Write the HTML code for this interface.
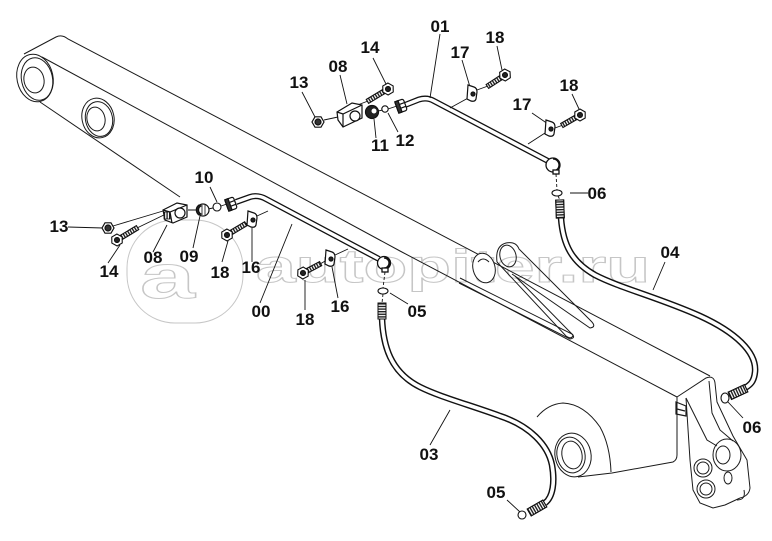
<!DOCTYPE html>
<html><head><meta charset="utf-8">
<style>
html,body{margin:0;padding:0;background:#fff;}
svg{display:block;}
.lb{font-family:"Liberation Sans",Arial,sans-serif;font-weight:bold;font-size:17px;fill:#111;text-anchor:middle;}
.wm{font-family:"Liberation Sans",Arial,sans-serif;font-weight:bold;fill:none;stroke:#c6c6c6;stroke-width:1;}
</style></head><body>
<svg width="772" height="541" viewBox="0 0 772 541" xmlns="http://www.w3.org/2000/svg">
<defs>
<pattern id="thr" patternUnits="userSpaceOnUse" width="2.6" height="10">
<rect width="2.6" height="10" fill="#fff"/><rect width="1.4" height="10" fill="#222"/>
</pattern>
</defs>
<rect width="772" height="541" fill="#fff"/>

<!-- watermark -->
<rect x="127" y="220" width="116" height="103" rx="48" class="wm"/>
<text x="140" y="298" class="wm" font-size="62" textLength="55" lengthAdjust="spacingAndGlyphs">a</text>
<text x="256" y="282" class="wm" font-size="46" textLength="394" lengthAdjust="spacingAndGlyphs">autopiter.ru</text>

<!-- ARM -->
<g fill="none" stroke="#1a1a1a" stroke-width="1">
<path d="M24,54 L56,37 Q62,34 68,39 L710,376"/>
<path d="M42,57 L400,251 L677,397"/>
<path d="M40,102 L180,197"/>
<ellipse cx="35" cy="78" rx="18" ry="24" transform="rotate(-12 35 78)"/>
<ellipse cx="37" cy="79" rx="15.5" ry="21.5" transform="rotate(-12 37 79)"/>
<ellipse cx="34" cy="80" rx="10" ry="13" transform="rotate(-12 34 80)"/>
<ellipse cx="98" cy="118" rx="16" ry="20" transform="rotate(-12 98 118)"/>
<ellipse cx="99" cy="119" rx="13.5" ry="17.5" transform="rotate(-12 99 119)"/>
<ellipse cx="96" cy="119" rx="9" ry="12" transform="rotate(-12 96 119)"/>
<!-- lug and slot -->
<path d="M497,262 Q495,246 506,243 Q516,241 519,249 L591,321 Q597,327 590,328 L512,274"/>
<path d="M497,262 L566,336 Q572,340 573,335 L515,276"/>
<path d="M460,278 L572,334 Q576,338 570,339 L459,283"/>
<ellipse cx="508" cy="256" rx="8" ry="11" transform="rotate(-15 508 256)"/>
<ellipse cx="484" cy="268" rx="11" ry="15" transform="rotate(-15 484 268)" fill="#fff"/>
<path d="M478,262 Q483,256 489,262"/>
<!-- lower boss -->
<path d="M537,417 Q548,404 563,403 Q584,404 600,427 Q610,445 611,472"/>
<ellipse cx="573" cy="455" rx="18" ry="22" transform="rotate(-12 573 455)" fill="#fff"/>
<ellipse cx="571" cy="455" rx="14" ry="18" transform="rotate(-12 571 455)"/>
<ellipse cx="572" cy="455" rx="10" ry="14" transform="rotate(-12 572 455)"/>
<path d="M578,477 L612,473 L673,462 Q677,460 677,455 L677,397"/>
<!-- bracket -->
<path d="M677,397 L706,378 Q714,375 715,383 L717,402 L733,436 L747,460 L750,488 Q749,496 740,498"/>
<path d="M686,398 L690,460 L693,490 L700,503 L713,508 L725,505 L740,498"/>
<path d="M686,398 L707,440 L717,446"/>
<path d="M709,381 L712,413 L720,430 L733,441"/>
<ellipse cx="727" cy="455" rx="14" ry="16"/>
<ellipse cx="723" cy="455" rx="7" ry="9"/>
<ellipse cx="728" cy="478" rx="4" ry="6"/>
<circle cx="703" cy="468" r="9" fill="#fff"/>
<circle cx="703" cy="468" r="6"/>
<circle cx="706" cy="489" r="9" fill="#fff"/>
<circle cx="706" cy="489" r="6"/>
<path d="M676,402 L686,406 L686,416 L676,414 Z M677,409 L685,411" stroke-width="1.2"/>
<path d="M744,490 Q746,500 737,500"/>
</g>

<!-- HOSES & PIPES -->
<g fill="none" stroke-linecap="butt">
<path d="M382,318 C383,345 390,372 420,387 C440,397 470,405 500,416 C530,426 548,445 552,465 C555,482 553,497 545,503" stroke="#111" stroke-width="6.5"/>
<path d="M382,318 C383,345 390,372 420,387 C440,397 470,405 500,416 C530,426 548,445 552,465 C555,482 553,497 545,503" stroke="#fff" stroke-width="3.6"/>
<path d="M561,218 C563,245 572,262 595,275 C620,288 660,298 700,316 C735,332 757,352 755,372 C754,382 750,385 745,388" stroke="#111" stroke-width="6.5"/>
<path d="M561,218 C563,245 572,262 595,275 C620,288 660,298 700,316 C735,332 757,352 755,372 C754,382 750,385 745,388" stroke="#fff" stroke-width="3.6"/>
<path d="M236,202 L250,197 Q258,194.5 266,199 L379,259" stroke="#111" stroke-width="6"/>
<path d="M236,202 L250,197 Q258,194.5 266,199 L379,259" stroke="#fff" stroke-width="3.4"/>
<path d="M405,105 L419,99.5 Q427,97 434,101 L548,161" stroke="#111" stroke-width="6"/>
<path d="M405,105 L419,99.5 Q427,97 434,101 L548,161" stroke="#fff" stroke-width="3.4"/>
</g>

<!-- hose fittings -->
<g stroke="#111" stroke-width="1">
<g transform="translate(560,209) rotate(88)"><rect x="-9" y="-4" width="18" height="8" fill="url(#thr)"/><rect x="-9" y="-4" width="18" height="8" fill="none"/></g>
<g transform="translate(382,311) rotate(90)"><rect x="-8" y="-4" width="16" height="8" fill="url(#thr)"/><rect x="-8" y="-4" width="16" height="8" fill="none"/></g>
<g transform="translate(537,508) rotate(150)"><rect x="-9" y="-4" width="18" height="8" fill="url(#thr)"/><rect x="-9" y="-4" width="18" height="8" fill="none"/></g>
<g transform="translate(738,392) rotate(155)"><rect x="-9" y="-4" width="18" height="8" fill="url(#thr)"/><rect x="-9" y="-4" width="18" height="8" fill="none"/></g>
</g>

<!-- elbows -->
<g stroke="#111" stroke-width="1.3">
<circle cx="553" cy="165" r="7" fill="#fff"/>
<path d="M556,159 A7,7 0 0 1 556,171 L553,171 A6,6 0 0 0 553,159 Z" fill="#222"/>
<rect x="553" y="170" width="6" height="4" fill="#fff"/>
<circle cx="384" cy="263" r="6.5" fill="#fff"/>
<path d="M387,257.5 A6.5,6.5 0 0 1 387,268.5 L384,268 A5,5 0 0 0 384,258 Z" fill="#222"/>
<rect x="382" y="268" width="6" height="4" fill="#fff"/>
</g>

<!-- pipe nuts -->
<g stroke="#111" stroke-width="1.2">
<g transform="translate(401,106) rotate(-20)"><rect x="-4.5" y="-6" width="9" height="12" rx="2" fill="#fff"/><path d="M-4.5,-2 L4.5,-2 M-4.5,2 L4.5,2" /><path d="M-4.5,-6 L-1,-6 L-1,6 L-4.5,6Z" fill="#333"/></g>
<g transform="translate(231,204) rotate(-20)"><rect x="-4.5" y="-6" width="9" height="12" rx="2" fill="#fff"/><path d="M-4.5,-2 L4.5,-2 M-4.5,2 L4.5,2" /><path d="M-4.5,-6 L-1,-6 L-1,6 L-4.5,6Z" fill="#333"/></g>
</g>

<!-- dashed center lines -->
<g stroke="#111" stroke-width="0.9" fill="none">
<path d="M556,174 L557,190 M558,196 L560,200" stroke-dasharray="3 2"/>
<path d="M385,272 L383,288 M383,294 L382,303" stroke-dasharray="3 2"/>
<!-- assembly lines -->
<path d="M324,120 L338,117 M368,101 L355,106 M378,111 L383,110 M388,109 L397,106 M470,97 L450,108 M488,86 L477,90 M545,133 L528,144 M563,125 L555,128"/>
<path d="M113,226 L163,211 M137,228 L168,213 M188,210 L197,210 M208,209 L213,208 M221,206 L227,204 M245,224 L249,222 M257,216 L268,211 M320,264 L327,260 M335,255 L348,249"/>
<!-- leaders -->
<path d="M440,34 L430,98 M462,60 L470,87 M497,46 L502,70 M532,113 L548,124 M572,94 L579,109 M570,193 L588,193"/>
<path d="M302,92 L315,117 M340,75 L347,104 M373,58 L386,84 M376,138 L374,119 M398,132 L388,113"/>
<path d="M210,187 L217,202 M200,216 L193,248 M167,225 L153,252 M108,263 L120,245 M68,227 L103,228 M222,262 L228,241 M252,262 L252,228 M260,303 L292,224 M305,310 L305,280 M338,298 L332,267 M390,293 L408,304"/>
<path d="M665,262 L653,290 M430,445 L450,410 M507,500 L520,512 M728,402 L743,418"/>
</g>

<!-- O-rings -->
<g fill="#fff" stroke="#111" stroke-width="1.1">
<ellipse cx="557" cy="193" rx="5" ry="3"/>
<ellipse cx="383" cy="291" rx="5" ry="3"/>
<circle cx="385" cy="109" r="3.2"/>
<circle cx="217" cy="207" r="4"/>
<circle cx="522" cy="515" r="4"/>
<ellipse cx="725" cy="398" rx="4" ry="5"/>
</g>

<!-- caps -->
<g stroke="#111" stroke-width="1.2">
<circle cx="372" cy="112" r="6.5" fill="#222"/>
<circle cx="374" cy="111" r="2.5" fill="#fff" stroke="none"/>
<circle cx="203" cy="210" r="6" fill="#fff"/>
<path d="M199,205 A6,6 0 0 0 199,215 L201,214 A4.5,4.5 0 0 1 201,206 Z" fill="#222"/>
<path d="M202,205 L202,215 M205,205 L205,215" stroke-width="0.8"/>
</g>

<!-- nuts 13 -->
<g stroke="#111" stroke-width="1.2">
<g transform="translate(318,122)"><polygon points="6,0 3,5.2 -3,5.2 -6,0 -3,-5.2 3,-5.2" fill="#fff"/><circle r="3" fill="#333"/></g>
<g transform="translate(108,228)"><polygon points="6,0 3,5.2 -3,5.2 -6,0 -3,-5.2 3,-5.2" fill="#fff"/><circle r="3" fill="#333"/></g>
</g>

<!-- blocks 08 -->
<g stroke="#111" stroke-width="1.2" fill="#fff">
<polygon points="337,112 352,103 362,105 362,118 343,127 338,120"/>
<path d="M337,112 L343,114 L362,105 M343,114 L343,127" fill="none"/>
<circle cx="355" cy="116" r="5"/>
<polygon points="163,210 177,203 187,205 187,217 173,223 165,220"/>
<path d="M163,210 L170,212 L187,205 M170,212 L172,223" fill="none"/>
<circle cx="180" cy="213" r="5"/>
<rect x="164" y="212" width="6" height="7" fill="url(#thr)" stroke-width="0.8"/>
</g>

<!-- bolts -->
<g stroke="#111" stroke-width="1.1">
<g transform="translate(388,89) rotate(149)"><rect x="5" y="-2.3" width="19" height="4.6" fill="url(#thr)"/><polygon points="6,0 3,5.2 -3,5.2 -6,0 -3,-5.2 3,-5.2" fill="#fff"/><circle r="2.5" fill="#222"/></g>
<g transform="translate(117,240) rotate(-31)"><rect x="5" y="-2.3" width="19" height="4.6" fill="url(#thr)"/><polygon points="6,0 3,5.2 -3,5.2 -6,0 -3,-5.2 3,-5.2" fill="#fff"/><circle r="2.5" fill="#222"/></g>
<g transform="translate(505,75) rotate(147)"><rect x="5" y="-2.3" width="16" height="4.6" fill="url(#thr)"/><polygon points="6,0 3,5.2 -3,5.2 -6,0 -3,-5.2 3,-5.2" fill="#fff"/><circle r="2.5" fill="#222"/></g>
<g transform="translate(580,115) rotate(150)"><rect x="5" y="-2.3" width="16" height="4.6" fill="url(#thr)"/><polygon points="6,0 3,5.2 -3,5.2 -6,0 -3,-5.2 3,-5.2" fill="#fff"/><circle r="2.5" fill="#222"/></g>
<g transform="translate(227,235) rotate(-31)"><rect x="5" y="-2.3" width="17" height="4.6" fill="url(#thr)"/><polygon points="6,0 3,5.2 -3,5.2 -6,0 -3,-5.2 3,-5.2" fill="#fff"/><circle r="2.5" fill="#222"/></g>
<g transform="translate(303,273) rotate(-28)"><rect x="5" y="-2.3" width="15" height="4.6" fill="url(#thr)"/><polygon points="6,0 3,5.2 -3,5.2 -6,0 -3,-5.2 3,-5.2" fill="#fff"/><circle r="2.5" fill="#222"/></g>
</g>

<!-- clips 16/17 -->
<g stroke="#111" stroke-width="1.2" fill="#fff">
<g transform="translate(472,93)"><path d="M-4,-8 L2,-6 Q5,-5 5,-1 L4,6 Q3,9 -1,8 L-5,6 Z"/><circle cx="1" cy="1" r="2" fill="#222"/></g>
<g transform="translate(550,128)"><path d="M-4,-8 L2,-6 Q5,-5 5,-1 L4,6 Q3,9 -1,8 L-5,6 Z"/><circle cx="1" cy="1" r="2" fill="#222"/></g>
<g transform="translate(252,219)"><path d="M-4,-8 L2,-6 Q5,-5 5,-1 L4,6 Q3,9 -1,8 L-5,6 Z"/><circle cx="1" cy="1" r="2" fill="#222"/></g>
<g transform="translate(330,258)"><path d="M-4,-8 L2,-6 Q5,-5 5,-1 L4,6 Q3,9 -1,8 L-5,6 Z"/><circle cx="1" cy="1" r="2" fill="#222"/></g>
</g>

<!-- labels -->
<text class="lb" x="440" y="32">01</text>
<text class="lb" x="495" y="43">18</text>
<text class="lb" x="460" y="58">17</text>
<text class="lb" x="569" y="91">18</text>
<text class="lb" x="522" y="110">17</text>
<text class="lb" x="405" y="146">12</text>
<text class="lb" x="597" y="199">06</text>
<text class="lb" x="670" y="258">04</text>
<text class="lb" x="370" y="53">14</text>
<text class="lb" x="338" y="72">08</text>
<text class="lb" x="299" y="88">13</text>
<text class="lb" x="380" y="151">11</text>
<text class="lb" x="204" y="183">10</text>
<text class="lb" x="59" y="232">13</text>
<text class="lb" x="109" y="277">14</text>
<text class="lb" x="153" y="263">08</text>
<text class="lb" x="189" y="262">09</text>
<text class="lb" x="220" y="278">18</text>
<text class="lb" x="251" y="273">16</text>
<text class="lb" x="261" y="317">00</text>
<text class="lb" x="305" y="325">18</text>
<text class="lb" x="340" y="312">16</text>
<text class="lb" x="417" y="317">05</text>
<text class="lb" x="429" y="460">03</text>
<text class="lb" x="496" y="498">05</text>
<text class="lb" x="752" y="433">06</text>
</svg>
</body></html>
